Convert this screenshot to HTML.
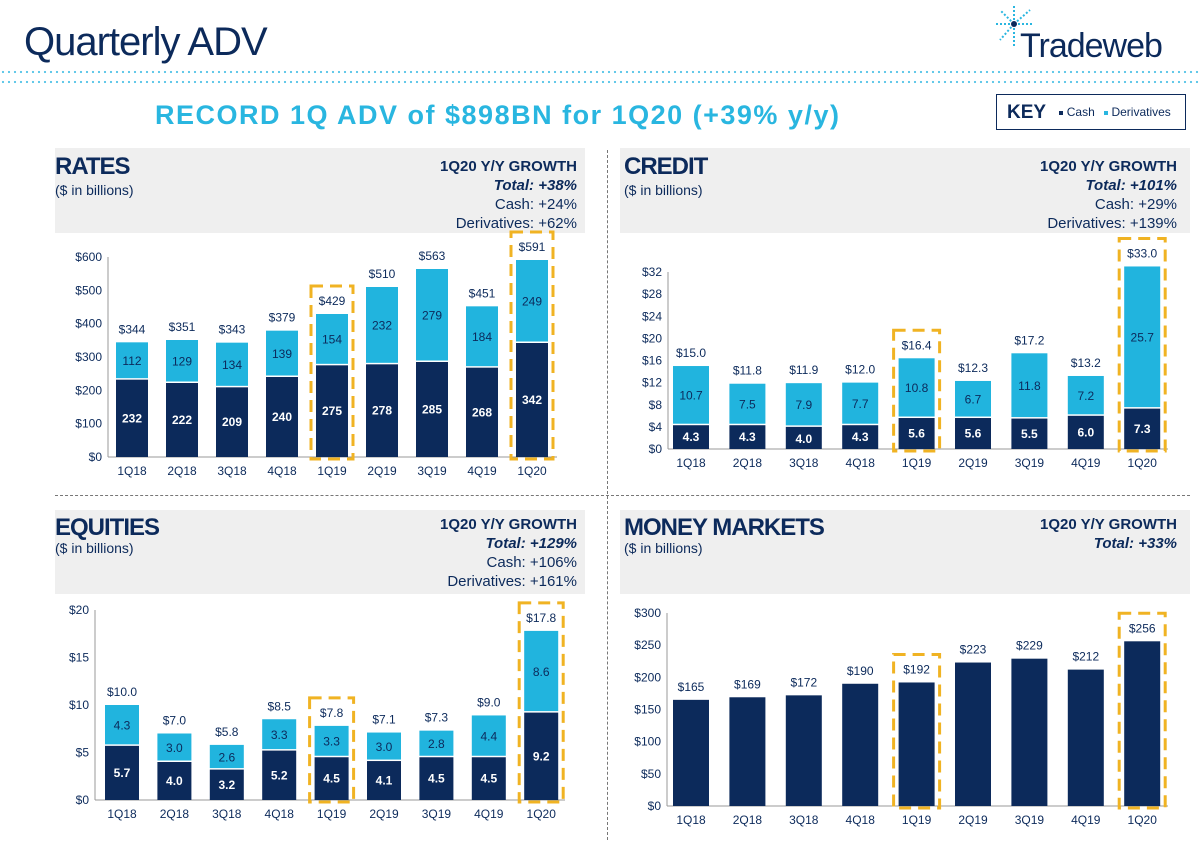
<!DOCTYPE html>
<html><head><meta charset="utf-8">
<style>
body{margin:0;width:1200px;height:843px;background:#fff;font-family:"Liberation Sans",Arial,sans-serif;position:relative;overflow:hidden}
.a{position:absolute}
.hdr{position:absolute;background:#efefef}
.t{font-weight:bold;color:#0c2a5b;font-size:24px;letter-spacing:-1px}
.sub{font-size:14px;color:#0c2a5b}
.g{text-align:right;font-size:15px;color:#0c2a5b;line-height:19px}
svg text{font-family:"Liberation Sans",Arial,sans-serif}
</style></head><body>
<div class="a" style="left:24px;top:20px;font-size:40px;color:#0c2a5b;letter-spacing:-1px">Quarterly ADV</div>
<svg class="a" style="left:990px;top:2px" width="210" height="65">
<g stroke="#29b6e0" stroke-width="2" stroke-dasharray="2 2"><line x1="24" y1="22" x2="24" y2="2"/><line x1="24" y1="22" x2="10" y2="8"/><line x1="24" y1="22" x2="4" y2="22"/><line x1="24" y1="22" x2="10" y2="38"/><line x1="24" y1="22" x2="24" y2="44"/><line x1="24" y1="22" x2="40" y2="8"/><line x1="24" y1="22" x2="42" y2="22"/></g>
<circle cx="24" cy="22" r="3" fill="#0c2a5b"/>
<text x="30" y="55" font-size="34" fill="#0c2a5b" letter-spacing="-1">Tradeweb</text></svg>
<div class="a" style="left:0;top:70px;width:1200px;height:4px;background:radial-gradient(circle,#5bc6e8 1px,transparent 1.3px) 0 0/6px 4px"></div>
<div class="a" style="left:0;top:80px;width:1200px;height:4px;background:radial-gradient(circle,#5bc6e8 1px,transparent 1.3px) 0 0/6px 4px"></div>
<div class="a" style="left:155px;top:100px;white-space:nowrap;font-size:27px;font-weight:bold;color:#29b6e0;letter-spacing:1.5px">RECORD 1Q ADV of $898BN for 1Q20 (+39% y/y)</div>
<div class="a" style="left:996px;top:94px;width:190px;height:36px;border:1.5px solid #0c2a5b;box-sizing:border-box;font-size:12px;color:#0c2a5b;line-height:34px;white-space:nowrap">
<b style="font-size:19px;margin-left:10px;vertical-align:middle">KEY</b>
<span style="display:inline-block;width:4px;height:4px;background:#0c2a5b;margin-left:10px;vertical-align:middle"></span> Cash
<span style="display:inline-block;width:4px;height:4px;background:#29b6e0;margin-left:6px;vertical-align:middle"></span> Derivatives</div>
<div class="a" style="left:607px;top:150px;height:690px;border-left:1.5px dashed #777"></div>
<div class="a" style="left:55px;top:495px;width:1135px;border-top:1.5px dashed #777"></div>

<div class="hdr" style="left:55px;top:148px;width:530px;height:85px"></div>
<div class="a t" style="left:55px;top:153px">RATES</div>
<div class="a sub" style="left:55px;top:182px">($ in billions)</div>
<div class="a g" style="right:623px;top:157px"><b>1Q20 Y/Y GROWTH</b><br><b><i>Total: +38%</i></b><br>Cash: +24%<br>Derivatives: +62%</div>

<div class="hdr" style="left:620px;top:148px;width:570px;height:85px"></div>
<div class="a t" style="left:624px;top:153px">CREDIT</div>
<div class="a sub" style="left:624px;top:182px">($ in billions)</div>
<div class="a g" style="right:23px;top:157px"><b>1Q20 Y/Y GROWTH</b><br><b><i>Total: +101%</i></b><br>Cash: +29%<br>Derivatives: +139%</div>

<div class="hdr" style="left:55px;top:510px;width:530px;height:84px"></div>
<div class="a t" style="left:55px;top:514px">EQUITIES</div>
<div class="a sub" style="left:55px;top:540px">($ in billions)</div>
<div class="a g" style="right:623px;top:515px"><b>1Q20 Y/Y GROWTH</b><br><b><i>Total: +129%</i></b><br>Cash: +106%<br>Derivatives: +161%</div>

<div class="hdr" style="left:620px;top:510px;width:570px;height:84px"></div>
<div class="a t" style="left:624px;top:514px">MONEY MARKETS</div>
<div class="a sub" style="left:624px;top:540px">($ in billions)</div>
<div class="a g" style="right:23px;top:515px"><b>1Q20 Y/Y GROWTH</b><br><b><i>Total: +33%</i></b></div>

<svg id="chart" class="a" style="left:0;top:0" width="1200" height="843"></svg>
<script>
const quarters=["1Q18","2Q18","3Q18","4Q18","1Q19","2Q19","3Q19","4Q19","1Q20"];
const ratesCash=[232,222,209,240,275,278,285,268,342];
const ratesDeriv=[112,129,134,139,154,232,279,184,249];
const ratesTotal=["$344","$351","$343","$379","$429","$510","$563","$451","$591"];
const ratesTicks=[0,100,200,300,400,500,600];
const creditCash=[4.3,4.3,4.0,4.3,5.6,5.6,5.5,6.0,7.3];
const creditDeriv=[10.7,7.5,7.9,7.7,10.8,6.7,11.8,7.2,25.7];
const creditTotal=["$15.0","$11.8","$11.9","$12.0","$16.4","$12.3","$17.2","$13.2","$33.0"];
const creditTicks=[0,4,8,12,16,20,24,28,32];
const eqCash=[5.7,4.0,3.2,5.2,4.5,4.1,4.5,4.5,9.2];
const eqDeriv=[4.3,3.0,2.6,3.3,3.3,3.0,2.8,4.4,8.6];
const eqTotal=["$10.0","$7.0","$5.8","$8.5","$7.8","$7.1","$7.3","$9.0","$17.8"];
const eqTicks=[0,5,10,15,20];
const mmCash=[165,169,172,190,192,223,229,212,256];
const mmTotal=["$165","$169","$172","$190","$192","$223","$229","$212","$256"];
const mmTicks=[0,50,100,150,200,250,300];
const highlights=[4,8];

const svg=document.getElementById('chart');
const NS='http://www.w3.org/2000/svg';
function mk(tag,at,parent){const e=document.createElementNS(NS,tag);for(const k in at)e.setAttribute(k,at[k]);(parent||svg).appendChild(e);return e;}
function chart(o){
  const g=mk('g',{});
  
  
  const y=v=>o.y0-(v/o.max)*(o.y0-o.yTop);
  const x=i=>o.x0+o.first+i*o.pitch;
  mk('line',{x1:o.ax,y1:o.y0,x2:o.ax,y2:y(o.ticks[o.ticks.length-1]),stroke:'#999'},g);
  mk('line',{x1:o.ax,y1:o.y0,x2:o.xEnd,y2:o.y0,stroke:'#999'},g);
  o.ticks.forEach(t=>{
    const tl=mk('text',{x:o.ax-6,y:y(t)+4,'text-anchor':'end','font-size':12,fill:'#0c2a5b'},g);
    
    
    tl.textContent='$'+t;
  });
  quarters.forEach((q,i)=>{
    const cx=x(i),w=o.bw;
    const c=o.cash[i],d=o.deriv?o.deriv[i]:0;
    const r1=mk('rect',{x:cx-w/2,y:y(c),width:w,height:o.y0-y(c),fill:'#0c2a5b'},g);
    
    
    if(o.deriv){
      const r2=mk('rect',{x:cx-w/2,y:y(c+d),width:w,height:y(c)-y(c+d)-1.5,fill:'#21b4de'},g);
      
      
      const dl=mk('text',{x:cx,y:(y(c)+y(c+d))/2+4,'text-anchor':'middle','font-size':12,fill:'#0c2a5b'},g);
      
      
      dl.textContent=o.fmt(d);
      const cl=mk('text',{x:cx,y:Math.max((y(0)+y(c))/2+4,y(c)+16),'text-anchor':'middle','font-size':12,'font-weight':'bold',fill:'#fff'},g);
      
      
      cl.textContent=o.fmt(c);
    }
    const tl=mk('text',{x:cx,y:y(c+d)-9,'text-anchor':'middle','font-size':12,fill:'#0c2a5b'},g);
    
    
    tl.textContent=o.total[i];
    const xl=mk('text',{x:cx,y:o.y0+18,'text-anchor':'middle','font-size':12,fill:'#0c2a5b'},g);
    
    
    xl.textContent=q;
    if(highlights.includes(i)){
      const top=y(c+d)-28;
      const hb=mk('rect',{x:cx-w/2-5,y:top,width:w+10,height:o.y0-top+2,fill:'none',stroke:'#f0b323','stroke-width':3,'stroke-dasharray':'12 7'},g);
      
      
    }
  });
}
chart({name:'rates-chart',cash:ratesCash,deriv:ratesDeriv,total:ratesTotal,ticks:ratesTicks,max:600,y0:457,yTop:257,ax:108,xEnd:557,x0:0,first:132,pitch:50,bw:32,fmt:v=>String(v)});
chart({name:'credit-chart',cash:creditCash,deriv:creditDeriv,total:creditTotal,ticks:creditTicks,max:32,y0:449,yTop:272,ax:668,xEnd:1168,x0:0,first:691,pitch:56.4,bw:36,fmt:v=>v.toFixed(1)});
chart({name:'equities-chart',cash:eqCash,deriv:eqDeriv,total:eqTotal,ticks:eqTicks,max:20,y0:800,yTop:610,ax:95,xEnd:565,x0:0,first:122,pitch:52.4,bw:34,fmt:v=>v.toFixed(1)});
chart({name:'money-markets-chart',cash:mmCash,deriv:null,total:mmTotal,ticks:mmTicks,max:300,y0:806,yTop:613,ax:667,xEnd:1168,x0:0,first:691,pitch:56.4,bw:36,fmt:v=>String(v)});
</script>
</body></html>
